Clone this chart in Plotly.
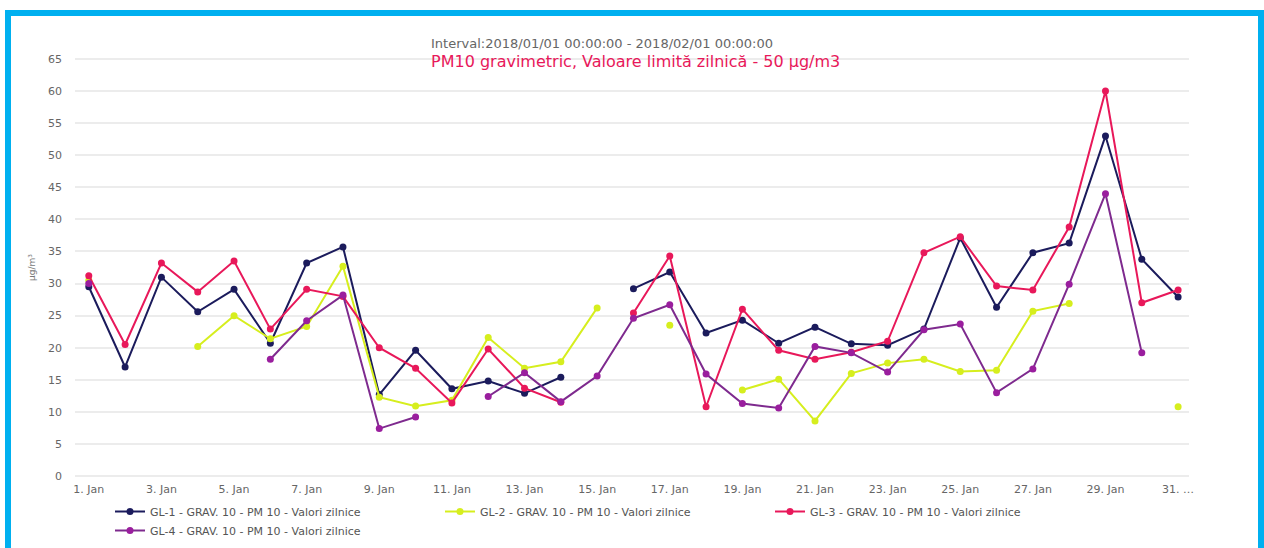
import plotly.graph_objects as go

days = list(range(1, 32))
tick_days = list(range(1, 32, 2))
tick_labels = ["1. Jan", "3. Jan", "5. Jan", "7. Jan", "9. Jan", "11. Jan", "13. Jan", "15. Jan",
               "17. Jan", "19. Jan", "21. Jan", "23. Jan", "25. Jan", "27. Jan", "29. Jan", "31. …"]

N = None
gl1 = [29.5, 17.0, 31.0, 25.6, 29.1, 20.7, 33.2, 35.7, 12.7, 19.6, 13.6, 14.8, 12.9, 15.4, N,
       29.2, 31.8, 22.3, 24.3, 20.7, 23.2, 20.6, 20.4, 22.9, 37.1, 26.3, 34.8, 36.3, 53.0, 33.8, 27.9]
gl2 = [30.5, N, N, 20.2, 25.0, 21.4, 23.3, 32.7, 12.3, 10.9, 11.8, 21.6, 16.8, 17.8, 26.2,
       N, 23.5, N, 13.4, 15.1, 8.6, 16.0, 17.6, 18.2, 16.3, 16.5, 25.7, 26.9, N, N, 10.8]
gl3 = [31.2, 20.5, 33.2, 28.7, 33.5, 22.9, 29.1, 28.0, 20.0, 16.8, 11.4, 19.8, 13.7, 11.5, N,
       25.4, 34.3, 10.8, 26.0, 19.6, 18.2, 19.3, 21.0, 34.8, 37.3, 29.6, 29.0, 38.8, 60.0, 27.0, 29.0]
gl4 = [30.0, N, N, N, N, 18.2, 24.2, 28.2, 7.4, 9.2, N, 12.4, 16.1, 11.6, 15.6,
       24.6, 26.7, 15.9, 11.3, 10.6, 20.2, 19.2, 16.2, 22.8, 23.7, 13.0, 16.7, 29.9, 44.0, 19.2, N]

series = [
    ("GL-1 - GRAV. 10 - PM 10 - Valori zilnice", gl1, "#1b1b5c", "#1b1b5c"),
    ("GL-2 - GRAV. 10 - PM 10 - Valori zilnice", gl2, "#d6ee1e", "#d6ee1e"),
    ("GL-3 - GRAV. 10 - PM 10 - Valori zilnice", gl3, "#e8185a", "#e8185a"),
    ("GL-4 - GRAV. 10 - PM 10 - Valori zilnice", gl4, "#7e2a8e", "#9a1e9e"),
]

fig = go.Figure()
for name, vals, lc, mc in series:
    fig.add_trace(go.Scatter(
        x=days, y=vals, name=name, mode="lines+markers",
        line=dict(color=lc, width=2),
        marker=dict(color=mc, size=7, symbol="circle"),
        connectgaps=False,
    ))

FONT = "DejaVu Sans, Verdana, sans-serif"

L, R, T, B = 75, 75, 57, 70
W, H = 1264, 548
PW, PH = W - L - R, H - T - B

def px(xp):
    return (xp - L) / PW

def py(yp):
    return (H - B - yp) / PH

fig.update_layout(
    width=W, height=H,
    margin=dict(l=L, r=R, t=T, b=B, autoexpand=False),
    paper_bgcolor="white", plot_bgcolor="white",
    font=dict(family=FONT, size=11, color="#666666"),
    showlegend=True,
    legend=dict(orientation="h", x=px(110), y=py(497), xanchor="left", yanchor="top",
                entrywidth=285, entrywidthmode="pixels", tracegroupgap=0,
                font=dict(size=11, color="#555555", family=FONT), itemwidth=30,
                bgcolor="rgba(0,0,0,0)"),
    xaxis=dict(range=[0.62, 31.3], tickvals=tick_days, ticktext=tick_labels,
               showgrid=False, zeroline=False, showline=False, ticks="", automargin=False,
               ticklabelstandoff=3,
               tickfont=dict(size=11, color="#666666"), fixedrange=True),
    yaxis=dict(range=[-0.3, 65.3], dtick=5, tick0=0, showgrid=True, automargin=False,
               gridcolor="#ececec", gridwidth=1.5, zeroline=False, showline=False,
               tickfont=dict(size=11, color="#666666"), ticks="", ticklabelstandoff=12,
               title=dict(text="µg/m³", font=dict(size=9, color="#777777"), standoff=10)),
)

fig.add_annotation(text="Interval:2018/01/01 00:00:00 - 2018/02/01 00:00:00",
                   xref="paper", yref="paper", x=px(602), y=py(44), yanchor="middle",
                   showarrow=False, font=dict(size=13, color="#666666", family=FONT))
fig.add_annotation(text="PM10 gravimetric, Valoare limită zilnică - 50 µg/m3",
                   xref="paper", yref="paper", x=px(635), y=py(61), yanchor="middle",
                   showarrow=False, font=dict(size=16, color="#e8185a", family=FONT))

# blue frame around the picture
fig.add_shape(type="rect", xref="paper", yref="paper",
              x0=px(8), x1=px(1261), y0=py(560), y1=py(13),
              line=dict(color="#00b0f0", width=6), fillcolor="rgba(0,0,0,0)", layer="above")

fig.write_html("out.html", config={"displayModeBar": False},
               post_script="document.body.style.margin='0';document.body.style.overflow='hidden';")
